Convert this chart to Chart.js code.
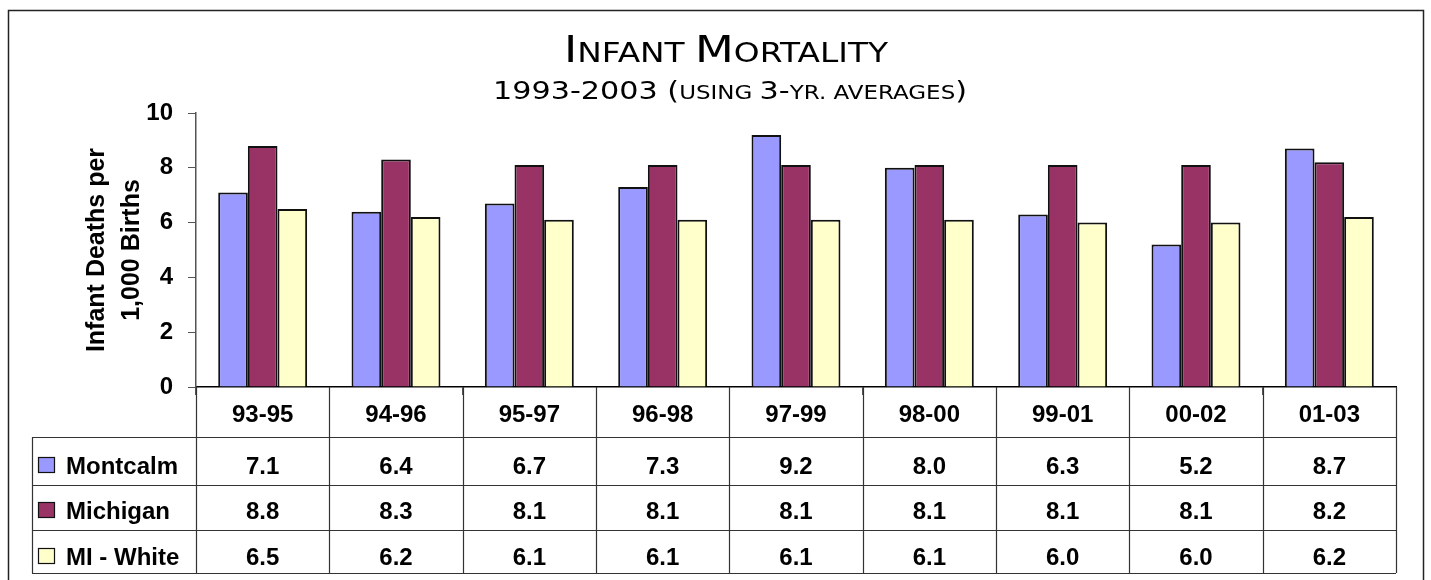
<!DOCTYPE html>
<html>
<head>
<meta charset="utf-8">
<script src="https://cdn.jsdelivr.net/npm/chart.js@4.4.1/dist/chart.umd.min.js"></script>
<style>
  html, body { margin: 0; padding: 0; background: #fff; }
  #wrap { width: 1431px; height: 580px; }
</style>
</head>
<body>
<div id="wrap"><canvas id="c" width="1431" height="580"></canvas></div>
<script>
// ---- data ----
const categories = ['93-95', '94-96', '95-97', '96-98', '97-99', '98-00', '99-01', '00-02', '01-03'];
const montcalm = [7.1, 6.4, 6.7, 7.3, 9.2, 8.0, 6.3, 5.2, 8.7];
const michigan = [8.8, 8.3, 8.1, 8.1, 8.1, 8.1, 8.1, 8.1, 8.2];
const miWhite  = [6.5, 6.2, 6.1, 6.1, 6.1, 6.1, 6.0, 6.0, 6.2];
const seriesNames = ['Montcalm', 'Michigan', 'MI - White'];
const yTicks = [0, 2, 4, 6, 8, 10];
const yTitle = ['Infant Deaths per', '1,000 Births'];

const colors = ['#9999FF', '#993366', '#FFFFCC'];
const seriesValues = [montcalm, michigan, miWhite];

const FONT = '"Liberation Sans", Arial, sans-serif';
const TITLE_FONT = '"DejaVu Sans", "Open Sans", sans-serif';

function drawMixed(ctx, segments, x0, x1, baseline) {
  let total = 0;
  segments.forEach(s => { ctx.font = s.size + 'px ' + TITLE_FONT; s.w = ctx.measureText(s.t).width; total += s.w; });
  const sx = (x1 - x0) / total;
  ctx.save();
  ctx.translate(x0, baseline);
  ctx.scale(sx, 1);
  ctx.textBaseline = 'alphabetic';
  ctx.textAlign = 'left';
  let x = 0;
  segments.forEach(s => { ctx.font = s.size + 'px ' + TITLE_FONT; ctx.fillText(s.t, x, 0); x += s.w; });
  ctx.restore();
}

const tablePlugin = {
  id: 'tablePlugin',
  afterDraw(chart) {
    const ctx = chart.ctx;
    const xs = chart.scales.x;
    const n = categories.length;
    const cw = (xs.right - xs.left) / n;
    const top = xs.top;
    const rowsY = [437, 485, 530, 573];
    const textY = [467, 512, 558];
    const tableLeft = 32;
    ctx.save();
    // outer frame
    ctx.strokeStyle = '#222';
    ctx.lineWidth = 1.5;
    ctx.strokeRect(8.5, 10.5, 1415, 620);

    // title
    ctx.fillStyle = '#000';
    drawMixed(ctx, [
      {t: 'I', size: 37}, {t: 'NFANT ', size: 27}, {t: 'M', size: 37}, {t: 'ORTALITY', size: 27}
    ], 564, 888, 62);
    drawMixed(ctx, [
      {t: '1993-2003 (', size: 25}, {t: 'USING ', size: 19}, {t: '3-', size: 25},
      {t: 'YR. AVERAGES', size: 19}, {t: ')', size: 25}
    ], 493, 967, 99);

    // table grid
    ctx.strokeStyle = '#333';
    ctx.lineWidth = 1.2;
    ctx.beginPath();
    for (let i = 0; i <= n; i++) {
      const x = Math.round(xs.left + i * cw) + 0.5;
      ctx.moveTo(x, top);
      ctx.lineTo(x, rowsY[3]);
    }
    ctx.moveTo(tableLeft + 0.5, rowsY[0]);
    ctx.lineTo(tableLeft + 0.5, rowsY[3]);
    rowsY.forEach(y => { ctx.moveTo(tableLeft, y + 0.5); ctx.lineTo(xs.right, y + 0.5); });
    ctx.stroke();

    // rows
    ctx.font = 'bold 24px ' + FONT;
    ctx.textBaseline = 'middle';
    for (let r = 0; r < 3; r++) {
      const yc = textY[r];
      // legend key
      ctx.fillStyle = colors[r];
      ctx.fillRect(38, yc - 10, 16, 15);
      ctx.strokeStyle = '#111';
      ctx.lineWidth = 1.2;
      ctx.strokeRect(38.5, yc - 9.5, 16, 15);
      ctx.fillStyle = '#000';
      ctx.textAlign = 'left';
      ctx.fillText(seriesNames[r], 66, yc);
      ctx.textAlign = 'center';
      seriesValues[r].forEach((v, i) => {
        ctx.fillText(v.toFixed(1), xs.left + (i + 0.5) * cw, yc);
      });
    }
    ctx.restore();
  }
};

new Chart(document.getElementById('c'), {
  type: 'bar',
  data: {
    labels: categories,
    datasets: seriesNames.map((name, i) => ({
      label: name,
      data: seriesValues[i],
      backgroundColor: colors[i],
      borderColor: '#111',
      borderWidth: 2,
      categoryPercentage: 0.667,
      barPercentage: 1.0
    }))
  },
  options: {
    responsive: false,
    animation: false,
    devicePixelRatio: 1,
    layout: { padding: { top: 113, left: 0, right: 35, bottom: 0 } },
    plugins: {
      legend: { display: false },
      title: { display: false },
      tooltip: { enabled: false }
    },
    scales: {
      x: {
        grid: { display: true, drawOnChartArea: false, offset: true, tickLength: 8, color: '#555' },
        border: { display: true, color: '#000', width: 1.5 },
        ticks: { color: '#000', font: { family: FONT, size: 24, weight: 'bold' }, padding: 6, maxRotation: 0 },
        afterFit(s) { s.height = 193; }
      },
      y: {
        min: 0, max: 10,
        afterBuildTicks(s) { s.ticks = yTicks.map(v => ({ value: v })); },
        grid: { display: true, drawOnChartArea: false, tickLength: 8, color: '#555' },
        border: { display: true, color: '#555', width: 1.5 },
        ticks: { color: '#000', font: { family: FONT, size: 24, weight: 'bold' }, padding: 15 },
        title: {
          display: true,
          text: yTitle,
          color: '#000',
          font: { family: FONT, size: 25, weight: 'bold', lineHeight: 1.4 },
          padding: { top: 80, bottom: 0 }
        },
        afterFit(s) { s.width = 196; }
      }
    }
  },
  plugins: [tablePlugin]
});
</script>
</body>
</html>
